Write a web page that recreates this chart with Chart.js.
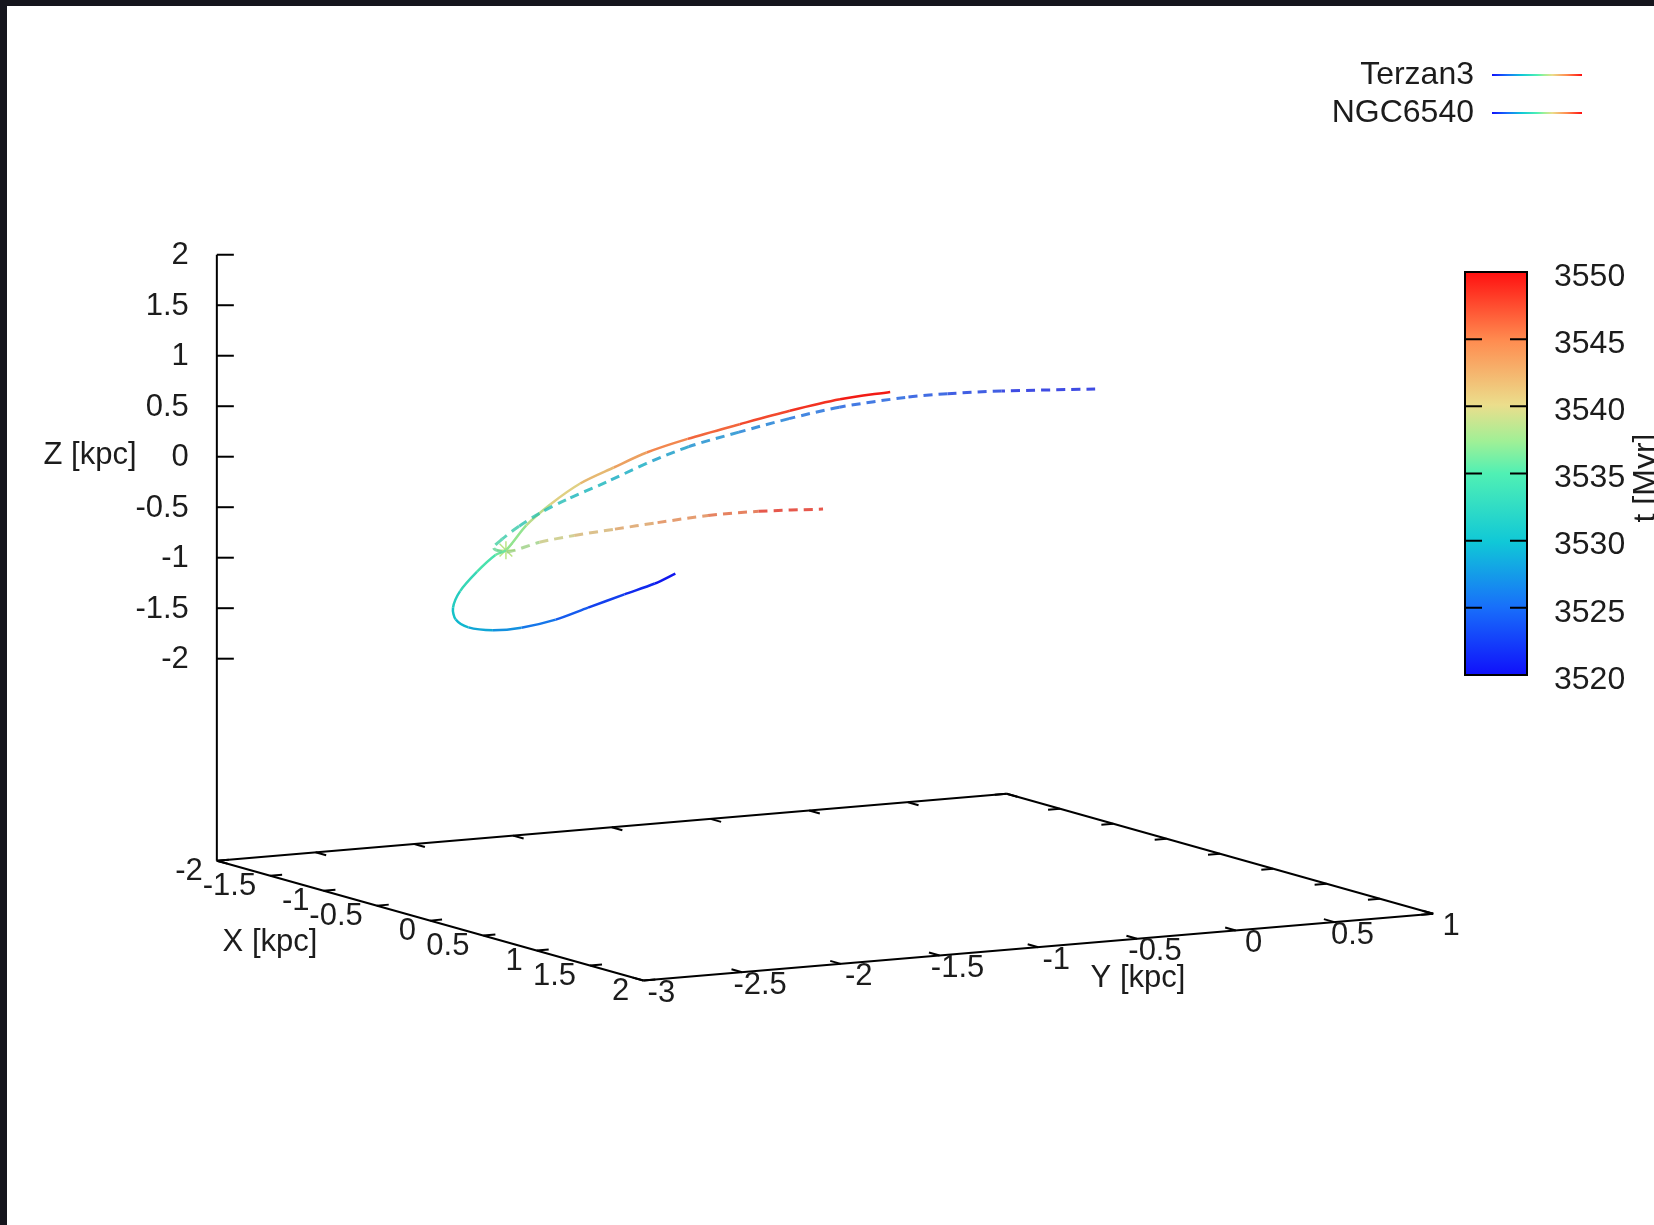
<!DOCTYPE html>
<html>
<head>
<meta charset="utf-8">
<title>Terzan3 / NGC6540 orbits</title>
<script src="https://cdn.jsdelivr.net/npm/chart.js@4.4.1/dist/chart.umd.min.js"></script>
<style>
    html, body { margin: 0; padding: 0; background: #15151d; overflow: hidden; }
    canvas { display: block; }
</style>
</head>
<body>
<canvas id="orbit" width="1654" height="1225"></canvas>
<script>
// orbit samples, X/Y/Z in kpc, t in Myr (read off the splot, depth estimated)
const terzanX = [0.8, 0.7, 0.6, 0.5, 0.4, 0.3, 0.2, 0.1, 0.0, -0.1, -0.2, -0.3, -0.35, -0.4, -0.45, -0.5, -0.5, -0.5, -0.45, -0.4, -0.3, -0.2, -0.1, 0.0];
const terzanY = [-2.19, -2.24, -2.34, -2.47, -2.58, -2.70, -2.79, -2.86, -2.87, -2.83, -2.74, -2.60, -2.48, -2.40, -2.27, -2.12, -1.97, -1.80, -1.66, -1.48, -1.27, -1.07, -0.87, -0.67];
const terzanZ = [-0.46, -0.58, -0.70, -0.84, -0.97, -1.06, -1.10, -1.09, -1.04, -0.96, -0.84, -0.70, -0.57, -0.55, -0.34, -0.17, 0.01, 0.14, 0.28, 0.40, 0.54, 0.67, 0.78, 0.85];
const terzanT = [3520, 3521, 3522, 3523.5, 3525, 3526.5, 3528, 3529, 3530, 3531, 3532.5, 3534, 3535.5, 3536.5, 3538, 3539.5, 3541, 3542.5, 3544, 3545.5, 3547, 3548, 3549, 3550];

const ngcX = [1.2, 1.1, 1.0, 0.9, 0.8, 0.7, 0.6, 0.5, 0.4, 0.3, 0.2, 0.1, 0.0, -0.1, -0.2, -0.3, -0.4, -0.5, -0.6, -0.7, -0.8, -0.9, -1.0];
const ngcY = [-0.28, -0.70, -0.92, -1.08, -1.36, -1.56, -1.76, -1.96, -2.12, -2.27, -2.42, -2.50, -2.55, -2.58, -2.57, -2.45, -2.23, -2.00, -1.74, -1.47, -1.16, -0.85, -0.47];
const ngcZ = [1.17, 1.19, 1.17, 1.13, 1.05, 0.94, 0.81, 0.67, 0.50, 0.31, 0.13, -0.02, -0.17, -0.32, -0.44, -0.53, -0.50, -0.50, -0.51, -0.52, -0.53, -0.57, -0.64];
const ngcT = [3520, 3522, 3523, 3524, 3525, 3526, 3527, 3528, 3529, 3530, 3531, 3532, 3533, 3534, 3535, 3537, 3539, 3540.5, 3542, 3543.5, 3545, 3547, 3550];

// closest approach marker
const meetX = [-0.4], meetY = [-2.40], meetZ = [-0.55];

const xTicks = [-2, -1.5, -1, -0.5, 0, 0.5, 1, 1.5, 2];
const yTicks = [-3, -2.5, -2, -1.5, -1, -0.5, 0, 0.5, 1];
const zTicks = [-2, -1.5, -1, -0.5, 0, 0.5, 1, 1.5, 2];
const cbTicks = [3520, 3525, 3530, 3535, 3540, 3545, 3550];
const seriesNames = ['Terzan3', 'NGC6540'];

const X_RANGE = [-2, 2], Y_RANGE = [-3, 1], Z_RANGE = [-2, 2], T_RANGE = [3520, 3550];
const Z_BASE = Z_RANGE[0] - 0.5 * (Z_RANGE[1] - Z_RANGE[0]);   // ticslevel 0.5

// view: orthographic, screen units per data unit
const W = 1654, H = 1225;
const VIEW = { ox: 209, oy: 865, ex: [108, 30.5], ey: [200, -17], ez: -102.75 };
const FONT = '31px "Liberation Sans", Arial, sans-serif';
const FONT_BIG = '32px "Liberation Sans", Arial, sans-serif';
const INK = '#1c1c1c';

function project(x, y, z) {
    const dx = x - X_RANGE[0], dy = y - Y_RANGE[0], dz = z - Z_BASE;
    return { x: VIEW.ox + VIEW.ex[0] * dx + VIEW.ey[0] * dy, y: VIEW.oy + VIEW.ex[1] * dx + VIEW.ey[1] * dy + VIEW.ez * dz };
}

const PALETTE = [[0, 16, 16, 250], [0.17, 24, 112, 250], [0.33, 16, 200, 215], [0.5, 80, 240, 180], [0.58, 160, 240, 150], [0.67, 235, 222, 140], [0.83, 255, 140, 80], [1, 255, 16, 16]];
function paletteColor(f, a = 1, shade = 1) {
    f = Math.max(0, Math.min(1, f));
    for (let i = 1; i < PALETTE.length; i++) {
        const [f1, ...c1] = PALETTE[i], [f0, ...c0] = PALETTE[i - 1];
        if (f <= f1) {
            const k = (f - f0) / (f1 - f0);
            const c = c0.map((v, j) => Math.round((v + (c1[j] - v) * k) * shade));
            return `rgba(${c[0]},${c[1]},${c[2]},${a})`;
        }
    }
}
const tFrac = t => (t - T_RANGE[0]) / (T_RANGE[1] - T_RANGE[0]);
function gradient(ctx, x0, y0, x1, y1) {
    const g = ctx.createLinearGradient(x0, y0, x1, y1);
    PALETTE.forEach(p => g.addColorStop(p[0], paletteColor(p[0])));
    return g;
}

const points = (xs, ys, zs) => xs.map((x, i) => project(x, ys[i], zs[i]));
const segColor = (T, a, shade) => c => paletteColor(tFrac((T[c.p0DataIndex] + T[c.p1DataIndex]) / 2), a, shade);

// draws the background frame, the 3D base box, ticks and labels
const box3d = {
    id: 'box3d',
    beforeDraw(chart) {
        const { ctx } = chart;
        ctx.save();
        ctx.fillStyle = '#15151d'; ctx.fillRect(0, 0, W, H);
        ctx.fillStyle = '#ffffff'; ctx.fillRect(7, 6, W - 7, H - 6);
        ctx.restore();
    },
    beforeDatasetsDraw(chart) {
        const { ctx, scales } = chart;
        const px = p => ({ x: scales.x.getPixelForValue(p.x), y: scales.y.getPixelForValue(p.y) });
        const P = (x, y, z) => px(project(x, y, z));
        const line = (a, b) => { ctx.beginPath(); ctx.moveTo(a.x, a.y); ctx.lineTo(b.x, b.y); ctx.stroke(); };
        const tick = (a, toward, len) => {
            const dx = toward.x - a.x, dy = toward.y - a.y, n = Math.hypot(dx, dy);
            line(a, { x: a.x + dx / n * len, y: a.y + dy / n * len });
        };
        const [x0, x1] = X_RANGE, [y0, y1] = Y_RANGE;
        ctx.save();
        ctx.strokeStyle = '#000'; ctx.lineWidth = 2;
        const A = P(x0, y0, Z_BASE), B = P(x1, y0, Z_BASE), C = P(x1, y1, Z_BASE), D = P(x0, y1, Z_BASE);
        line(A, B); line(B, C); line(C, D); line(D, A);
        // z axis
        line(A, P(x0, y0, Z_RANGE[1]));
        zTicks.forEach(z => { const p = P(x0, y0, z); line(p, { x: p.x + 17, y: p.y }); });
        xTicks.forEach(x => {
            tick(P(x, y0, Z_BASE), P(x, y1, Z_BASE), 12);
            tick(P(x, y1, Z_BASE), P(x, y0, Z_BASE), 12);
        });
        yTicks.forEach(y => {
            tick(P(x1, y, Z_BASE), P(x0, y, Z_BASE), 11);
            tick(P(x0, y, Z_BASE), P(x1, y, Z_BASE), 11);
        });

        ctx.fillStyle = INK; ctx.font = FONT; ctx.textBaseline = 'middle';
        ctx.textAlign = 'right';
        zTicks.forEach(z => { const p = P(x0, y0, z); ctx.fillText(String(z), p.x - 28, p.y + 1); });
        xTicks.forEach(x => { const p = P(x, y0, Z_BASE); ctx.fillText(String(x), p.x - 14, p.y + 11); });
        ctx.textAlign = 'center';
        yTicks.forEach(y => { const p = P(x1, y, Z_BASE); ctx.fillText(String(y), p.x + 18, p.y + 13); });
        ctx.fillText('Z [kpc]', 90, 455);
        ctx.fillText('X [kpc]', 270, 942);
        ctx.fillText('Y [kpc]', 1138, 978);
        ctx.restore();
    }
};

const colorbar = {
    id: 'colorbar',
    afterDraw(chart) {
        const { ctx } = chart;
        const L = 1465, R = 1527, TOP = 272, BOT = 675;
        const yOf = t => BOT - tFrac(t) * (BOT - TOP);
        ctx.save();
        ctx.fillStyle = gradient(ctx, 0, BOT, 0, TOP);
        ctx.fillRect(L, TOP, R - L, BOT - TOP);
        ctx.strokeStyle = '#000'; ctx.lineWidth = 2;
        ctx.strokeRect(L, TOP, R - L, BOT - TOP);
        ctx.fillStyle = INK; ctx.font = FONT_BIG; ctx.textAlign = 'left'; ctx.textBaseline = 'middle';
        cbTicks.forEach(t => {
            const y = yOf(t);
            if (t > T_RANGE[0] && t < T_RANGE[1]) {
                ctx.beginPath();
                ctx.moveTo(L, y); ctx.lineTo(L + 17, y);
                ctx.moveTo(R - 17, y); ctx.lineTo(R, y);
                ctx.stroke();
            }
            ctx.fillText(String(t), 1554, y + 5);
        });
        ctx.translate(1646, 478); ctx.rotate(-Math.PI / 2);
        ctx.textAlign = 'center';
        ctx.fillText('t [Myr]', 0, 0);
        ctx.restore();
    }
};

const keyBox = {
    id: 'keyBox',
    afterDraw(chart) {
        const { ctx } = chart;
        ctx.save();
        ctx.font = FONT_BIG;
        ctx.fillStyle = INK; ctx.textAlign = 'right'; ctx.textBaseline = 'middle';
        seriesNames.forEach((name, i) => {
            const y = 75 + i * 38;
            ctx.fillText(name, 1474, y);
            ctx.strokeStyle = gradient(ctx, 1492, 0, 1582, 0);
            ctx.lineWidth = 2;
            ctx.beginPath(); ctx.moveTo(1492, y); ctx.lineTo(1582, y); ctx.stroke();
        });
        ctx.restore();
    }
};

new Chart(document.getElementById('orbit'), {
    type: 'scatter',
    data: {
        datasets: [
            {
                label: seriesNames[1], data: points(ngcX, ngcY, ngcZ), showLine: true,
                pointRadius: 0, borderWidth: 3, borderDash: [9, 6], tension: 0.3,
                segment: { borderColor: segColor(ngcT, 0.8, 0.88) }
            },
            {
                label: seriesNames[0], data: points(terzanX, terzanY, terzanZ), showLine: true,
                pointRadius: 0, borderWidth: 2.5, tension: 0.3,
                segment: { borderColor: segColor(terzanT, 1, 0.95) }
            },
            {
                label: 'meet', data: points(meetX, meetY, meetZ), showLine: false,
                pointStyle: 'star', pointRadius: 9, borderWidth: 1.5,
                borderColor: 'rgba(180,225,120,0.9)', backgroundColor: 'rgba(0,0,0,0)'
            }
        ]
    },
    options: {
        responsive: false, animation: false, devicePixelRatio: 1,
        layout: { padding: 0 },
        plugins: { legend: { display: false }, tooltip: { enabled: false } },
        scales: {
            x: { type: 'linear', min: 0, max: W, display: false },
            y: { type: 'linear', min: 0, max: H, reverse: true, display: false }
        }
    },
    plugins: [box3d, colorbar, keyBox]
});
</script>
</body>
</html>
